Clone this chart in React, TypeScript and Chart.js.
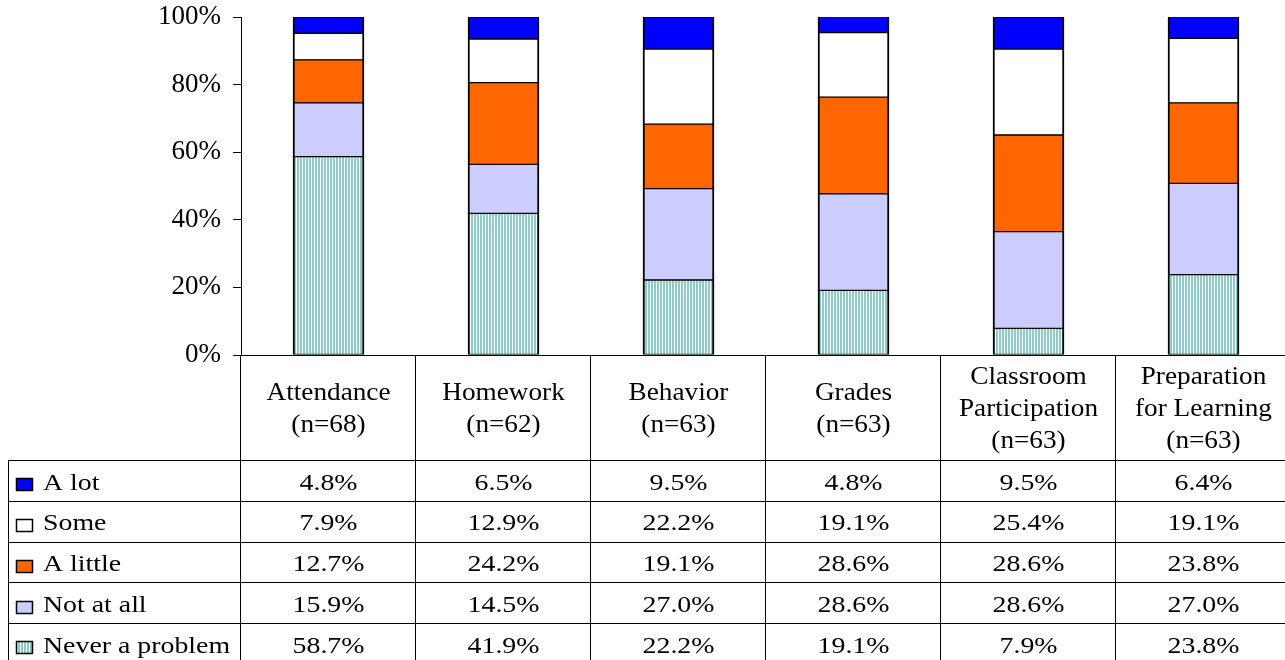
import React, { useEffect, useRef } from "react";
import { Chart, registerables } from "chart.js";

Chart.register(...registerables);

// ---- data ----
const categories: string[][] = [
  ["Attendance"],
  ["Homework"],
  ["Behavior"],
  ["Grades"],
  ["Classroom", "Participation"],
  ["Preparation", "for Learning"],
];
const sampleSizes = [68, 62, 63, 63, 63, 63];
const seriesNames = ["A lot", "Some", "A little", "Not at all", "Never a problem"];
const aLot = [4.8, 6.5, 9.5, 4.8, 9.5, 6.4];
const some = [7.9, 12.9, 22.2, 19.1, 25.4, 19.1];
const aLittle = [12.7, 24.2, 19.1, 28.6, 28.6, 23.8];
const notAtAll = [15.9, 14.5, 27.0, 28.6, 28.6, 27.0];
const neverAProblem = [58.7, 41.9, 22.2, 19.1, 7.9, 23.8];
const yTicks = [0, 20, 40, 60, 80, 100];

const SERIF = "'Liberation Serif', 'Times New Roman', serif";

function drawText(
  ctx: CanvasRenderingContext2D,
  text: string,
  x: number,
  y: number,
  size: number,
  sx: number,
  align: CanvasTextAlign
) {
  ctx.save();
  ctx.font = `${size}px ${SERIF}`;
  ctx.fillStyle = "#000";
  ctx.textBaseline = "middle";
  ctx.textAlign = align;
  ctx.translate(x, y);
  ctx.scale(sx, 1);
  ctx.fillText(text, 0, 0);
  ctx.restore();
}

export default function App() {
  const ref = useRef<HTMLCanvasElement>(null);

  useEffect(() => {
    const canvas = ref.current!;
    const pc = document.createElement("canvas");
    pc.width = 3;
    pc.height = 4;
    const p = pc.getContext("2d")!;
    p.fillStyle = "#f4fafa";
    p.fillRect(0, 0, 3, 4);
    p.fillStyle = "#92caca";
    p.fillRect(0, 0, 2, 4);
    const pattern = canvas.getContext("2d")!.createPattern(pc, "repeat")!;

    const rowData = [aLot, some, aLittle, notAtAll, neverAProblem];
    const rowFills: (string | CanvasPattern)[] = ["#0000ff", "#ffffff", "#ff6600", "#ccccff", pattern];

    const tablePlugin = {
      id: "dataTable",
      afterDraw(chart: any) {
        const ctx: CanvasRenderingContext2D = chart.ctx;
        const area = chart.chartArea;
        const xs = chart.scales.x;
        const n = categories.length;
        const colW = (area.right - area.left) / n;
        const headerTop = Math.round(area.bottom);
        const headerBottom = headerTop + 105;
        const rowH = 40.75;
        const tableLeft = 8;
        const bottom = chart.height;
        const right = chart.width;

        ctx.save();
        ctx.strokeStyle = "#000";
        ctx.lineWidth = 1;
        ctx.beginPath();
        ctx.moveTo(area.left - 8, headerTop + 0.5);
        ctx.lineTo(right, headerTop + 0.5);
        for (let i = 0; i <= n; i++) {
          const bx = Math.round(area.left + i * colW) - 0.5;
          ctx.moveTo(bx, headerTop);
          ctx.lineTo(bx, bottom);
        }
        ctx.moveTo(tableLeft + 0.5, headerBottom);
        ctx.lineTo(tableLeft + 0.5, bottom);
        for (let r = 0; r <= seriesNames.length; r++) {
          const ry = Math.round(headerBottom + r * rowH) + 0.5;
          ctx.moveTo(tableLeft, ry);
          ctx.lineTo(right, ry);
        }
        ctx.stroke();

        const headerMid = (headerTop + headerBottom) / 2 + 2;
        for (let i = 0; i < n; i++) {
          const cx = xs.getPixelForValue(i);
          const lines = [...categories[i], `(n=${sampleSizes[i]})`];
          const lh = 32;
          const start = headerMid - ((lines.length - 1) * lh) / 2;
          lines.forEach((t, k) => drawText(ctx, t, cx, start + k * lh, 25, 1.09, "center"));
        }

        for (let r = 0; r < seriesNames.length; r++) {
          const rc = headerBottom + r * rowH + rowH / 2;
          const cy = rc + 3;
          ctx.fillStyle = rowFills[r] as any;
          ctx.fillRect(16, Math.round(rc) - 2, 17, 13);
          ctx.strokeStyle = "#000";
          ctx.lineWidth = 1.5;
          ctx.strokeRect(16.5, Math.round(rc) - 1.5, 16, 12);
          ctx.lineWidth = 1;
          drawText(ctx, seriesNames[r], 43, cy, 24, 1.16, "left");
          for (let i = 0; i < n; i++) {
            const cx = xs.getPixelForValue(i);
            drawText(ctx, rowData[r][i].toFixed(1) + "%", cx, cy, 24, 1.16, "center");
          }
        }
        ctx.restore();
      },
    };

    const border = { top: 1, bottom: 1, left: 2, right: 2 };
    const mk = (label: string, data: number[], bg: any) => ({
      label,
      data,
      backgroundColor: bg,
      borderColor: "#000",
      borderWidth: border,
      borderSkipped: false,
      barThickness: 71,
    });

    const chart = new Chart(canvas, {
      type: "bar",
      data: {
        labels: categories.map((c) => c.join(" ")),
        datasets: [
          mk(seriesNames[4], neverAProblem, pattern),
          mk(seriesNames[3], notAtAll, "#ccccff"),
          mk(seriesNames[2], aLittle, "#ff6600"),
          mk(seriesNames[1], some, "#ffffff"),
          mk(seriesNames[0], aLot, "#0000ff"),
        ] as any,
      },
      options: {
        responsive: false,
        animation: false,
        devicePixelRatio: 1,
        layout: { padding: { top: 17, bottom: 305, left: 0, right: 9 } },
        plugins: { legend: { display: false }, tooltip: { enabled: false } },
        scales: {
          x: { stacked: true, display: false },
          y: {
            stacked: true,
            min: 0,
            max: 100,
            afterFit: (s: any) => {
              s.width = 241;
              s.paddingTop = 0;
              s.paddingBottom = 0;
            },
            afterBuildTicks: (s: any) => {
              s.ticks = yTicks.map((v) => ({ value: v }));
            },
            ticks: {
              callback: (v: any) => v + "%",
              color: "#000",
              padding: 12,
              font: { family: SERIF, size: 27 },
            },
            grid: { drawOnChartArea: false, drawTicks: true, tickLength: 8, color: "#000" },
            border: { display: true, color: "#000", width: 1 },
          },
        },
      },
      plugins: [tablePlugin],
    });
    return () => chart.destroy();
  }, []);

  return (
    <div
      style={{
        position: "fixed",
        left: 0,
        top: 0,
        width: 1285,
        height: 660,
        overflow: "hidden",
        background: "#fff",
      }}
    >
      <canvas ref={ref} width={1300} height={660} style={{ display: "block", width: 1300, height: 660 }} />
    </div>
  );
}
